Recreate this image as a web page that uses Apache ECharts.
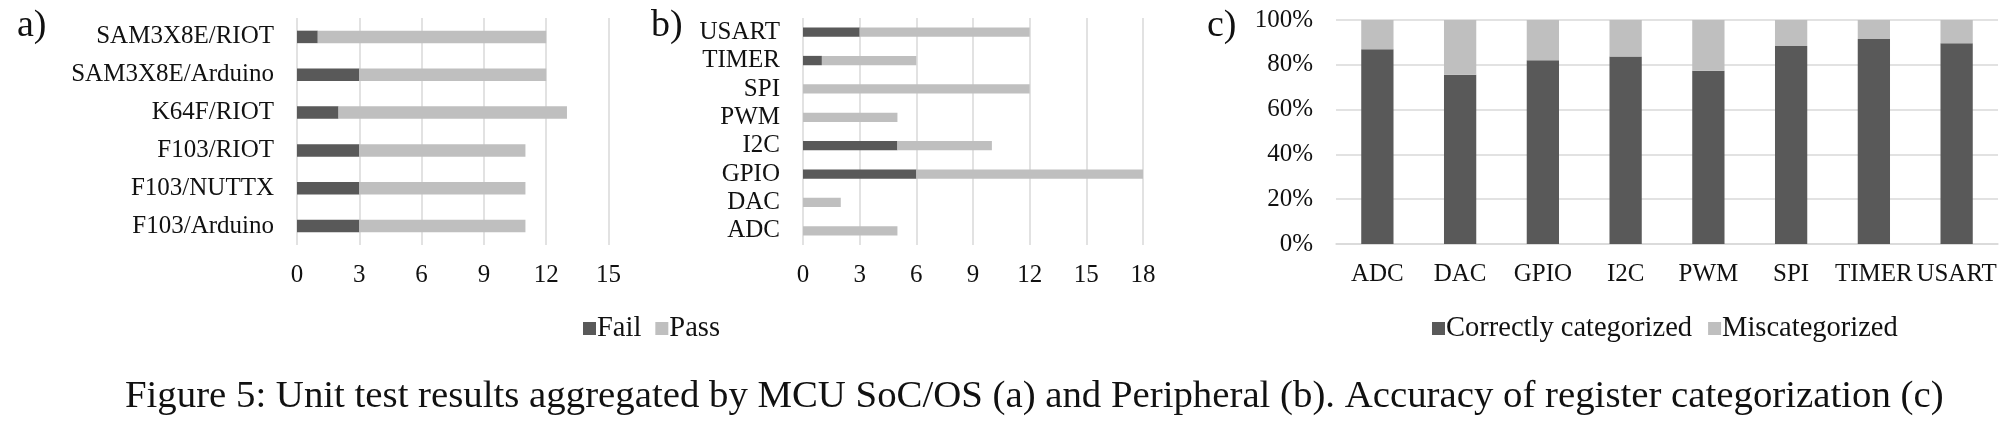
<!DOCTYPE html>
<html>
<head>
<meta charset="utf-8">
<script src="https://cdn.jsdelivr.net/npm/echarts@6/dist/echarts.min.js"></script>
<style>
html,body{margin:0;padding:0;background:#fff;}
#chart{width:2013px;height:429px;}
</style>
</head>
<body>
<div id="chart"></div>
<script>
// Panel a: by MCU SoC/OS (bottom to top)
const catsA = ['F103/Arduino','F103/NUTTX','F103/RIOT','K64F/RIOT','SAM3X8E/Arduino','SAM3X8E/RIOT'];
const failA = [3, 3, 3, 2, 3, 1];
const passA = [8, 8, 8, 11, 9, 11];
const ticksA = [0, 3, 6, 9, 12, 15];

// Panel b: by peripheral (bottom to top)
const catsB = ['ADC','DAC','GPIO','I2C','PWM','SPI','TIMER','USART'];
const failB = [0, 0, 6, 5, 0, 0, 1, 3];
const passB = [5, 2, 12, 5, 5, 12, 5, 9];
const ticksB = [0, 3, 6, 9, 12, 15, 18];

// Panel c: register categorization accuracy (%)
const catsC = ['ADC','DAC','GPIO','I2C','PWM','SPI','TIMER','USART'];
const correctC = [86.9, 75.6, 82.0, 83.7, 77.3, 88.4, 91.5, 89.6];
const miscatC = [13.1, 24.4, 18.0, 16.3, 22.7, 11.6, 8.5, 10.4];
const ticksC = ['0%','20%','40%','60%','80%','100%'];

const caption = 'Figure 5: Unit test results aggregated by MCU SoC/OS (a) and Peripheral (b). Accuracy of register categorization (c)';

const FONT = "'Liberation Serif','Times New Roman',serif";
const DARK = '#595959', LIGHT = '#bfbfbf', GRID = '#d9d9d9', TXT = '#111';
const lbl = {fontFamily: FONT, fontSize: 25, color: TXT};
const legTxt = {fontFamily: FONT, fontSize: 28.5, color: TXT, padding: [0,0,0,-4]};

const chart = echarts.init(document.getElementById('chart'), null, {renderer: 'canvas'});

function valAxis(gi, max) {
  return {
    type: 'value', gridIndex: gi, min: 0, max: max, interval: 3,
    axisLine: {show: false}, axisTick: {show: false},
    splitLine: {show: true, lineStyle: {color: GRID, width: 1.5}},
    axisLabel: Object.assign({margin: 18}, lbl)
  };
}
function catAxis(gi, cats) {
  return {
    type: 'category', gridIndex: gi, data: cats,
    axisLine: {show: false}, axisTick: {show: false},
    axisLabel: Object.assign({margin: 23, interval: 0}, lbl)
  };
}
const ttl = {fontFamily: FONT, fontSize: 38, fontWeight: 'normal', color: TXT};

const option = {
  backgroundColor: '#fff',
  animation: false,
  textStyle: {fontFamily: FONT},
  title: [
    {text: 'a)', left: 12, top: 2, textStyle: ttl},
    {text: 'b)', left: 646, top: 2, textStyle: ttl},
    {text: 'c)', left: 1202, top: 2, textStyle: ttl},
    {text: caption, left: 120, top: 372, textStyle: {fontFamily: FONT, fontSize: 38.8, fontWeight: 'normal', color: TXT}}
  ],
  legend: [
    {data: ['Fail','Pass'], left: 578, top: 309, itemWidth: 13, itemHeight: 13, itemGap: 14,
     icon: 'rect', textStyle: legTxt},
    {data: ['Correctly categorized','Miscategorized'], left: 1427, top: 309, itemWidth: 13, itemHeight: 13, itemGap: 16,
     icon: 'rect', textStyle: legTxt}
  ],
  grid: [
    {left: 297, top: 18, width: 311.5, height: 227},
    {left: 803, top: 18, width: 340, height: 227},
    {left: 1336, top: 20, width: 662, height: 224}
  ],
  xAxis: [
    valAxis(0, 15),
    valAxis(1, 18),
    {type: 'category', gridIndex: 2, data: catsC,
     axisLine: {show: true, lineStyle: {color: GRID, width: 1.5}}, axisTick: {show: false},
     axisLabel: Object.assign({margin: 18, interval: 0}, lbl)}
  ],
  yAxis: [
    catAxis(0, catsA),
    catAxis(1, catsB),
    {type: 'value', gridIndex: 2, min: 0, max: 100, interval: 20,
     axisLine: {show: false}, axisTick: {show: false},
     splitLine: {show: true, lineStyle: {color: GRID, width: 1.5}},
     axisLabel: Object.assign({margin: 23, formatter: '{value}%'}, lbl)}
  ],
  series: [
    {name: 'Fail', type: 'bar', stack: 'a', xAxisIndex: 0, yAxisIndex: 0, data: failA, barWidth: '33%', itemStyle: {color: DARK}},
    {name: 'Pass', type: 'bar', stack: 'a', xAxisIndex: 0, yAxisIndex: 0, data: passA, barWidth: '33%', itemStyle: {color: LIGHT}},
    {name: 'Fail', type: 'bar', stack: 'b', xAxisIndex: 1, yAxisIndex: 1, data: failB, barWidth: '33%', itemStyle: {color: DARK}},
    {name: 'Pass', type: 'bar', stack: 'b', xAxisIndex: 1, yAxisIndex: 1, data: passB, barWidth: '33%', itemStyle: {color: LIGHT}},
    {name: 'Correctly categorized', type: 'bar', stack: 'c', xAxisIndex: 2, yAxisIndex: 2, data: correctC, barWidth: '39%', itemStyle: {color: DARK}},
    {name: 'Miscategorized', type: 'bar', stack: 'c', xAxisIndex: 2, yAxisIndex: 2, data: miscatC, barWidth: '39%', itemStyle: {color: LIGHT}}
  ]
};
chart.setOption(option);
</script>
</body>
</html>
